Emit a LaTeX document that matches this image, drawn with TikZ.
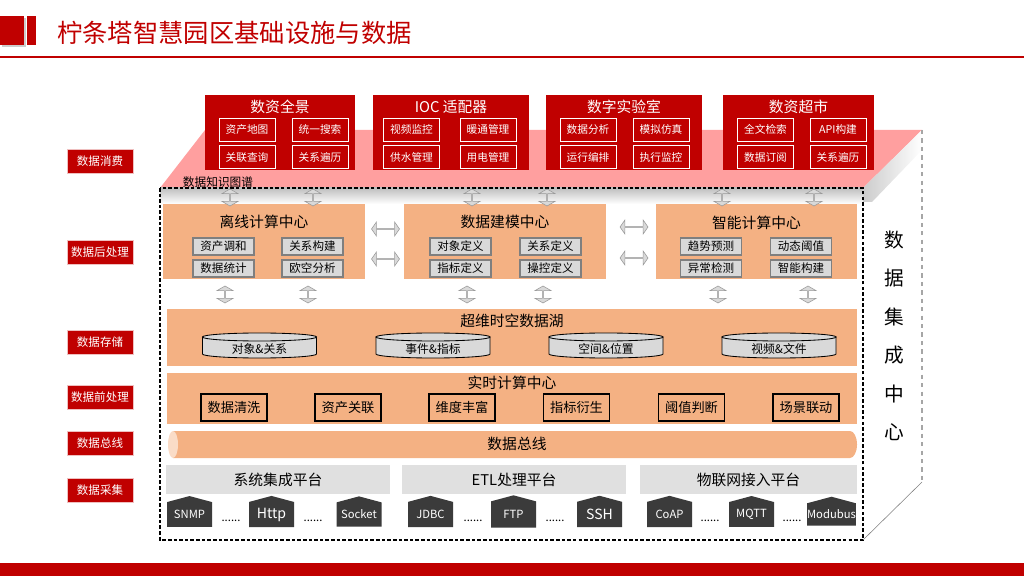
\documentclass[tikz,border=0pt]{standalone}
\usepackage{fontspec}
\setmainfont{Noto Sans CJK SC}
\usetikzlibrary{positioning,shapes.geometric,shapes.arrows,shapes.symbols}
\definecolor{ParkRed}{HTML}{C00000}
\definecolor{ParkPink}{HTML}{FF9F9F}
\definecolor{ParkOrange}{HTML}{F4B183}
\definecolor{ParkGray}{HTML}{D9D9D9}
\definecolor{ParkLine}{HTML}{7F7F7F}
\definecolor{ParkDark}{HTML}{3B3B3B}
\definecolor{ParkPlat}{HTML}{E0E0E0}

\begin{document}
\begin{tikzpicture}[
    x=0.025cm,y=-0.025cm,
    wh/.style 2 args={minimum width=#1*0.025cm,minimum height=#2*0.025cm},
    tag/.style={fill=ParkRed,draw=ParkRed!25,text=white,inner sep=0pt,wh={66}{24},
                font=\fontsize{8.2}{9}\selectfont},
    appbox/.style={fill=ParkRed,inner sep=0pt},
    apptitle/.style={text=white,inner sep=0pt,font=\fontsize{10.5}{12}\selectfont},
    appitem/.style={draw=white,fill=ParkRed,text=white,inner sep=0pt,wh={56}{23},
                font=\fontsize{7.6}{9}\selectfont},
    calcbox/.style={fill=ParkOrange,inner sep=0pt},
    calctitle/.style={inner sep=0pt,font=\fontsize{10.5}{12}\selectfont},
    calcitem/.style={draw=ParkLine,fill=ParkGray,line width=0.8pt,inner sep=0pt,wh={61}{17},
                font=\fontsize{8.2}{9}\selectfont},
    lakeskin/.style={draw=black,fill=ParkGray,line width=0.6pt},
    laketext/.style={inner sep=0pt,font=\fontsize{8.4}{9}\selectfont},
    rtitem/.style={draw=black,line width=0.9pt,inner sep=0pt,wh={66}{27},
                font=\fontsize{9.4}{10}\selectfont},
    platform/.style={fill=ParkPlat,inner sep=0pt,wh={#1}{29},font=\fontsize{10.5}{12}\selectfont},
    proto/.style={signal,signal to=north,signal pointer angle=150,fill=ParkDark,text=white,
                inner sep=0pt,wh={45}{29},font=\fontsize{8}{9}\selectfont},
    dots/.style={inner sep=0pt,font=\fontsize{8}{9}\selectfont},
    sidechar/.style={inner sep=0pt,font=\fontsize{14}{16}\selectfont},
    arrowv/.style={double arrow,rotate=90,draw=ParkLine!80,fill=ParkGray,inner sep=0pt,
                minimum height=17*0.025cm,minimum width=16*0.025cm,double arrow head extend=3.5*0.025cm,
                double arrow tip angle=120},
    arrowh/.style={double arrow,draw=ParkLine!80,fill=ParkGray,inner sep=0pt,
                minimum height=28*0.025cm,minimum width=14*0.025cm,double arrow head extend=3*0.025cm,
                double arrow tip angle=110}
  ]
    \useasboundingbox (0,0) rectangle (1024,576);

    \fill[gray!40] (2,18) rectangle (26,47);
    \fill[ParkRed] (0,16) rectangle (24,45);
    \fill[ParkRed] (27,16) rectangle (36,45);
    \node[anchor=west,inner sep=0pt,text=ParkRed,font=\fontsize{18}{20}\selectfont] (title) at (57,33) {柠条塔智慧园区基础设施与数据};
    \draw[ParkRed,line width=1.5pt] (0,57) -- (1024,57);
    \fill[ParkRed] (0,563) rectangle (1024,576);

    \fill[ParkPink] (160,188) -- (205,130) -- (922,130) -- (863,188) -- cycle;
    \shade[top color=gray!50,bottom color=white] (160,188) rectangle (863,204);
    \shade[left color=gray!40,right color=white] (863,188) -- (922,130) -- (922,150) -- (872,202) -- (863,202) -- cycle;
    \draw[gray!70,dashed,line width=0.8pt] (922,130) -- (922,482);
    \draw[gray,line width=0.4pt] (922,482) -- (863,540);
    \draw[black,line width=0.8pt,dash pattern=on 2.5pt off 1.5pt] (160,188) rectangle (863,540);
    \node[inner sep=0pt,font=\fontsize{8.3}{9}\selectfont] (graph) at (218,182) {数据知识图谱};

    \node[tag] (consume) at (100,161) {数据消费};
    \node[tag] (post) at (100,252) {数据后处理};
    \node[tag] (store) at (100,342) {数据存储};
    \node[tag] (pre) at (100,397) {数据前处理};
    \node[tag] (bus) at (100,443) {数据总线};
    \node[tag] (collect) at (100,490) {数据采集};

    \node[appbox,wh={150}{75}] (panorama) at (280,132.5) {};
    \node[apptitle] at (280,107) {数资全景};
    \node[appitem] (assetmap) at (247,129.5) {资产地图};
    \node[appitem] (search) at (320,129.5) {统一搜索};
    \node[appitem] (query) at (247,157) {关联查询};
    \node[appitem] (traverse) at (320,157) {关系遍历};

    \node[appbox,wh={156}{75}] (ioc) at (451,132.5) {};
    \node[apptitle] at (451,107) {IOC 适配器};
    \node[appitem] (video) at (411.5,129.5) {视频监控};
    \node[appitem] (hvac) at (488,129.5) {暖通管理};
    \node[appitem] (water) at (411.5,157) {供水管理};
    \node[appitem] (power) at (488,157) {用电管理};

    \node[appbox,wh={156}{75}] (lab) at (624,132.5) {};
    \node[apptitle] at (624,107) {数字实验室};
    \node[appitem] (analysis) at (588,129.5) {数据分析};
    \node[appitem] (simulate) at (661,129.5) {模拟仿真};
    \node[appitem] (orchestrate) at (588,157) {运行编排};
    \node[appitem] (execmon) at (661,157) {执行监控};

    \node[appbox,wh={151}{75}] (market) at (798.5,132.5) {};
    \node[apptitle] at (798.5,107) {数资超市};
    \node[appitem] (fulltext) at (765.5,129.5) {全文检索};
    \node[appitem] (api) at (838,129.5) {API构建};
    \node[appitem] (subscribe) at (765.5,157) {数据订阅};
    \node[appitem] (traverse2) at (838,157) {关系遍历};

    \node[calcbox,wh={202}{75}] (offline) at (264,241.5) {};
    \node[calctitle] at (264,222) {离线计算中心};
    \node[calcitem] (reconcile) at (223.5,246.5) {资产调和};
    \node[calcitem] (relbuild) at (312.5,246.5) {关系构建};
    \node[calcitem] (stats) at (223.5,268.5) {数据统计};
    \node[calcitem] (ospace) at (312.5,268.5) {欧空分析};

    \node[calcbox,wh={202}{75}] (model) at (505,241.5) {};
    \node[calctitle] at (505,222) {数据建模中心};
    \node[calcitem] (objdef) at (460.5,246.5) {对象定义};
    \node[calcitem] (reldef) at (550.5,246.5) {关系定义};
    \node[calcitem] (inddef) at (460.5,268.5) {指标定义};
    \node[calcitem] (ctrldef) at (550.5,268.5) {操控定义};

    \node[calcbox,wh={201}{75}] (smart) at (756.5,241.5) {};
    \node[calctitle] at (756.5,223) {智能计算中心};
    \node[calcitem] (trend) at (711,246.5) {趋势预测};
    \node[calcitem] (threshold) at (801,246.5) {动态阈值};
    \node[calcitem] (anomaly) at (711,268.5) {异常检测};
    \node[calcitem] (smartbuild) at (801,268.5) {智能构建};

    \node[arrowh] (h1) at (385.5,229) {};
    \node[arrowh] (h2) at (385.5,259) {};
    \node[arrowh] (h3) at (634,227) {};
    \node[arrowh] (h4) at (634,258) {};

    \node[arrowv] (up1) at (230,197.5) {};
    \node[arrowv] (up2) at (313,197.5) {};
    \node[arrowv] (up3) at (472,197.5) {};
    \node[arrowv] (up4) at (547,197.5) {};
    \node[arrowv] (up5) at (722,197.5) {};
    \node[arrowv] (up6) at (814,197.5) {};
    \node[arrowv] (dn1) at (225,294.5) {};
    \node[arrowv] (dn2) at (308,294.5) {};
    \node[arrowv] (dn3) at (467,294.5) {};
    \node[arrowv] (dn4) at (543,294.5) {};
    \node[arrowv] (dn5) at (718,294.5) {};
    \node[arrowv] (dn6) at (808,294.5) {};

    \node[calcbox,wh={690}{57}] (lakebox) at (512,337.5) {};
    \node[calctitle] at (512,321) {超维时空数据湖};
    \foreach \cx/\nm/\txt in {259.5/objrel/对象\&关系,433/event/事件\&指标,606/space/空间\&位置,779/media/视频\&文件}{
      \draw[lakeskin] (\cx-57,337) -- (\cx-57,354) arc[start angle=180,end angle=0,x radius=57,y radius=4] -- (\cx+57,337) -- cycle;
      \draw[lakeskin] (\cx,337) ellipse[x radius=57,y radius=4];
      \node[laketext] (\nm) at (\cx,349) {\txt};
    }

    \node[calcbox,wh={690}{51}] (realtime) at (512,398.5) {};
    \node[calctitle] at (512,383) {实时计算中心};
    \node[rtitem] (clean) at (234,407.5) {数据清洗};
    \node[rtitem] (assetlink) at (348,407.5) {资产关联};
    \node[rtitem] (enrich) at (462,407.5) {维度丰富};
    \node[rtitem] (derive) at (576.5,407.5) {指标衍生};
    \node[rtitem] (judge) at (691.5,407.5) {阈值判断};
    \node[rtitem] (linkage) at (806,407.5) {场景联动};

    \fill[ParkOrange] (173,431) -- (850,431) arc[start angle=-90,end angle=90,x radius=7,y radius=13.5] -- (173,458) -- cycle;
    \fill[ParkOrange!45] (173,444.5) ellipse[x radius=5,y radius=13.5];
    \node[calctitle] (buspipe) at (517,444) {数据总线};

    \node[platform=224] (sysint) at (278,479.5) {系统集成平台};
    \node[platform=224] (etl) at (514,479.5) {ETL处理平台};
    \node[platform=217] (iot) at (748.5,479.5) {物联网接入平台};

    \node[proto] (snmp) at (189.5,514.5) {SNMP};
    \node[proto,font=\fontsize{10}{11}\selectfont] (http) at (271.5,514.5) {Http};
    \node[proto] (socket) at (359,514.5) {Socket};
    \node[proto] (jdbc) at (430.5,514.5) {JDBC};
    \node[proto] (ftp) at (513.5,514.5) {FTP};
    \node[proto,font=\fontsize{10}{11}\selectfont] (ssh) at (599.5,514.5) {SSH};
    \node[proto] (coap) at (669.5,514.5) {CoAP};
    \node[proto] (mqtt) at (751.5,514.5) {MQTT};
    \node[proto] (modbus) at (831.5,514.5) {Modubus};
    \node[dots] (d1) at (231,521) {......};
    \node[dots] (d2) at (313,521) {......};
    \node[dots] (d3) at (473,521) {......};
    \node[dots] (d4) at (555,521) {......};
    \node[dots] (d5) at (710,521) {......};
    \node[dots] (d6) at (792,521) {......};

    \foreach \ch [count=\i] in {数,据,集,成,中,心}
      \node[sidechar] (side\i) at (894,{240+38.4*(\i-1)}) {\ch};
  \end{tikzpicture}
\end{document}
